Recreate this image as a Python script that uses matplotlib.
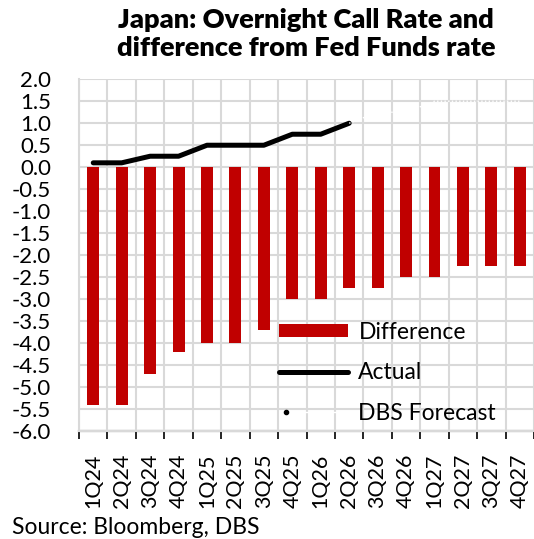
import numpy as np
import matplotlib
matplotlib.use("Agg")
from matplotlib import pyplot as plt
from matplotlib.lines import Line2D
from matplotlib.legend_handler import HandlerLine2D

quarters = ['1Q24', '2Q24', '3Q24', '4Q24', '1Q25', '2Q25', '3Q25', '4Q25',
            '1Q26', '2Q26', '3Q26', '4Q26', '1Q27', '2Q27', '3Q27', '4Q27']
difference = [-5.4, -5.4, -4.7, -4.2, -4.0, -4.0, -3.7, -3.0,
              -3.0, -2.75, -2.75, -2.5, -2.5, -2.25, -2.25, -2.25]
actual = [0.1, 0.1, 0.25, 0.25, 0.5, 0.5, 0.5, 0.75, 0.75, 1.0]
forecast = [1.0, 1.25, 1.25, 1.5, 1.5, 1.5, 1.5]


class FirstDotHandler(HandlerLine2D):
    # only draw the marker at the left end of the legend handle
    def create_artists(self, *args, **kwargs):
        arts = super().create_artists(*args, **kwargs)
        for a in arts:
            a.set_markevery([0])
        return arts


plt.rcParams['font.family'] = ['Lato', 'DejaVu Sans']

fig = plt.figure(figsize=(5.34, 5.39), dpi=100)
ax = fig.add_axes([0.148, 0.2, 0.852, 0.653])

x = np.arange(len(quarters))
bars = ax.bar(x, difference, width=0.42, color='#C00000', zorder=3, label='Difference')
line, = ax.plot(x[:len(actual)], actual, color='black', lw=3.6,
                solid_capstyle='round', solid_joinstyle='round', zorder=4, label='Actual')
ax.plot(x[len(actual) - 1:], forecast, color='white', lw=1, ls=':', zorder=4)

ax.set_xlim(-0.5, len(quarters) - 0.5)
ax.set_ylim(-6, 2)
ax.set_yticks(np.arange(-6, 2.01, 0.5))
ax.set_yticklabels([f'{v:.1f}' for v in np.arange(-6, 2.01, 0.5)], fontsize=16)
ax.set_xticks(x)
ax.set_xticklabels(quarters, rotation=90, fontsize=15.5)
ax.tick_params(axis='x', length=0, pad=16)
ax.tick_params(axis='y', length=0, pad=20)

# grid: horizontal every 0.5, vertical at category boundaries
ax.set_xticks(np.arange(-0.5, len(quarters), 1), minor=True)
ax.grid(True, axis='y', color='#d9d9d9', lw=1.5, zorder=0)
ax.grid(True, axis='x', which='minor', color='#d9d9d9', lw=1.5, zorder=0)
ax.tick_params(axis='x', which='minor', length=0)
for s in ['top', 'right']:
    ax.spines[s].set_visible(False)
for s in ['left', 'bottom']:
    ax.spines[s].set_color('#d9d9d9')
    ax.spines[s].set_linewidth(1.5)

# zero axis with tick marks between categories
secax = ax.secondary_xaxis(0)
secax.set_xticks(np.arange(-0.5, len(quarters), 1))
secax.set_xticklabels([])
secax.tick_params(direction='out', length=6, width=1.2, color='black')
secax.spines['bottom'].set_color('black')
secax.spines['bottom'].set_linewidth(1.5)

fc_handle = Line2D([], [], color='white', lw=1, marker='o', markersize=3,
                   markerfacecolor='black', markeredgecolor='black')
leg = ax.legend([bars, line, fc_handle], ['Difference', 'Actual', 'DBS Forecast'],
                loc='upper left', bbox_to_anchor=(0.395, 0.37), frameon=False,
                fontsize=16.5, handlelength=3.0, handleheight=0.55, labelspacing=0.85,
                handletextpad=0.45,
                handler_map={fc_handle: FirstDotHandler(numpoints=2)})

fig.text(0.573, 0.985, 'Japan: Overnight Call Rate and\ndifference from Fed Funds rate',
         ha='center', va='top', fontsize=19.5, fontweight='heavy', linespacing=1.2)
fig.text(0.022, 0.022, 'Source: Bloomberg, DBS', ha='left', va='center', fontsize=16.5)

fig.savefig('out.png', dpi=100)
